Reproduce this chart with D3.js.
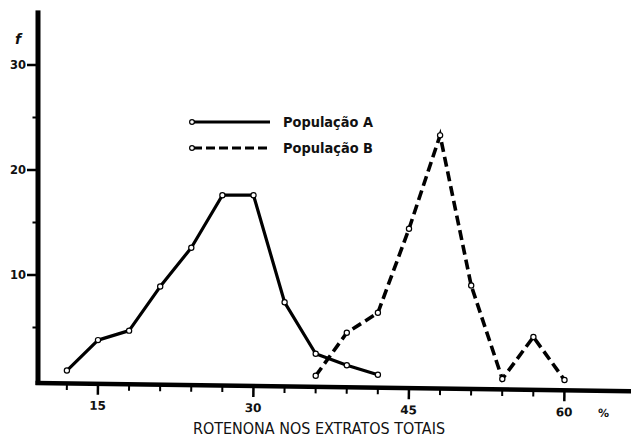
<!DOCTYPE html>
<html>
<head>
<meta charset="utf-8">
<script src="https://cdn.jsdelivr.net/npm/d3@7"></script>
<style>
  html, body { margin: 0; padding: 0; background: #fff; }
  svg { display: block; }
  text { font-family: "DejaVu Sans", sans-serif; fill: #111; }
</style>
</head>
<body>
<svg id="chart" width="631" height="438"></svg>
<script>
// Rotenone content (%) in total extracts and observed frequencies
const rotenonaA = [12, 15, 18, 21, 24, 27, 30, 33, 36, 39, 42];
const freqA     = [0.9, 3.8, 4.7, 8.9, 12.6, 17.6, 17.6, 7.4, 2.5, 1.4, 0.5];
const rotenonaB = [36, 39, 42, 45, 48, 51, 54, 57, 60];
const freqB     = [0.4, 4.5, 6.4, 14.4, 23.3, 9.0, 0.1, 4.1, 0.0];

const seriesNames = ["População A", "População B"];
const xTickLabels = [15, 30, 45, 60];
const xMinorTicks = [12, 18, 21, 24, 27, 33, 36, 39, 42, 48, 51, 54, 57];
const yTickLabels = [10, 20, 30];
const yMinorTicks = [5, 15, 25];
const xTitle = "ROTENONA NOS EXTRATOS TOTAIS";
const yTitle = "f";
const xUnit = "%";

const svg = d3.select("#chart");
const W = 631, H = 438;

const x = d3.scaleLinear().domain([15, 60]).range([98, 564.5]);
const y = d3.scaleLinear().domain([0, 30]).range([380, 65]);

const axisX0 = 38;            // position of the vertical axis
const baseY = y(0) + 3;       // horizontal axis line, left end
const tilt = 0.8;             // the baseline was ruled slightly askew
const ink = "#000";

// ---- vertical axis ----
const yAxisG = svg.append("g").attr("transform", `translate(${axisX0},0)`);
yAxisG.selectAll("rect.major").data(yTickLabels).join("rect")
  .attr("class", "major")
  .attr("x", -11).attr("width", 11)
  .attr("y", d => y(d) - 1.25).attr("height", 2.5)
  .attr("fill", ink);
yAxisG.selectAll("rect.minor").data(yMinorTicks).join("rect")
  .attr("class", "minor")
  .attr("x", -5.5).attr("width", 5.5)
  .attr("y", d => y(d) - 1).attr("height", 2)
  .attr("fill", ink);
yAxisG.append("rect")
  .attr("x", -2.5).attr("width", 5)
  .attr("y", y(35.2)).attr("height", baseY + 2 - y(35.2))
  .attr("fill", ink);
yAxisG.selectAll("text.tl").data(yTickLabels).join("text")
  .attr("class", "tl")
  .attr("x", -12).attr("y", d => y(d)).attr("dy", "0.36em")
  .attr("text-anchor", "end")
  .attr("font-size", 11.5).attr("font-weight", "bold")
  .text(d3.format("d"));

svg.append("text")
  .attr("x", 18).attr("y", 44)
  .attr("font-size", 14).attr("font-style", "italic").attr("font-weight", "bold")
  .attr("text-anchor", "middle")
  .text(yTitle);

// ---- horizontal axis (slightly tilted) ----
const xAxisG = svg.append("g")
  .attr("transform", `rotate(${tilt},${axisX0},${baseY}) translate(0,${baseY})`);
xAxisG.selectAll("rect.major").data(xTickLabels).join("rect")
  .attr("class", "major")
  .attr("x", d => x(d) - 1.25).attr("width", 2.5)
  .attr("y", 0).attr("height", 11)
  .attr("fill", ink);
xAxisG.selectAll("rect.minor").data(xMinorTicks).join("rect")
  .attr("class", "minor")
  .attr("x", d => x(d) - 1).attr("width", 2)
  .attr("y", 0).attr("height", 6.5)
  .attr("fill", ink);
xAxisG.append("rect")
  .attr("x", axisX0 - 2.5).attr("width", W + 8 - axisX0)
  .attr("y", -2.25).attr("height", 4.5)
  .attr("fill", ink);
xAxisG.selectAll("text.tl").data(xTickLabels).join("text")
  .attr("class", "tl")
  .attr("x", d => x(d)).attr("y", 26)
  .attr("text-anchor", "middle")
  .attr("font-size", 12).attr("font-weight", "bold")
  .text(d3.format("d"));

xAxisG.append("text")
  .attr("x", x(63.8)).attr("y", 26)
  .attr("font-size", 11).attr("font-weight", "bold")
  .attr("text-anchor", "middle")
  .text(xUnit);

svg.append("text")
  .attr("x", 319).attr("y", 434)
  .attr("font-size", 16)
  .attr("text-anchor", "middle")
  .attr("textLength", 252).attr("lengthAdjust", "spacingAndGlyphs")
  .text(xTitle);

// ---- series ----
const line = d3.line().x(d => x(d[0])).y(d => y(d[1]));
const dataA = rotenonaA.map((v, i) => [v, freqA[i]]);
const dataB = rotenonaB.map((v, i) => [v, freqB[i]]);

svg.append("path").datum(dataA)
  .attr("d", line).attr("fill", "none")
  .attr("stroke", ink).attr("stroke-width", 3.2)
  .attr("stroke-linejoin", "round");

svg.append("path").datum(dataB)
  .attr("d", line).attr("fill", "none")
  .attr("stroke", ink).attr("stroke-width", 3.6)
  .attr("stroke-dasharray", "10,5");

function markers(data) {
  svg.append("g").selectAll("circle").data(data).join("circle")
    .attr("cx", d => x(d[0])).attr("cy", d => y(d[1]))
    .attr("r", 2.6)
    .attr("fill", "#fff").attr("stroke", ink).attr("stroke-width", 1.2);
}
markers(dataA);
markers(dataB);

// ---- legend ----
const legend = svg.append("g");
const legendRows = [
  { name: seriesNames[0], y: 122, dash: null },
  { name: seriesNames[1], y: 148, dash: "9,4" }
];
legendRows.forEach(r => {
  legend.append("line")
    .attr("x1", 193).attr("x2", 270)
    .attr("y1", r.y).attr("y2", r.y)
    .attr("stroke", ink).attr("stroke-width", 3.2)
    .attr("stroke-dasharray", r.dash);
  legend.append("circle")
    .attr("cx", 192).attr("cy", r.y).attr("r", 2.4)
    .attr("fill", "#fff").attr("stroke", ink).attr("stroke-width", 1.2);
  legend.append("text")
    .attr("x", 283).attr("y", r.y + 5)
    .attr("font-size", 13.5).attr("font-weight", "bold")
    .attr("textLength", 90).attr("lengthAdjust", "spacingAndGlyphs")
    .text(r.name);
});
</script>
</body>
</html>
